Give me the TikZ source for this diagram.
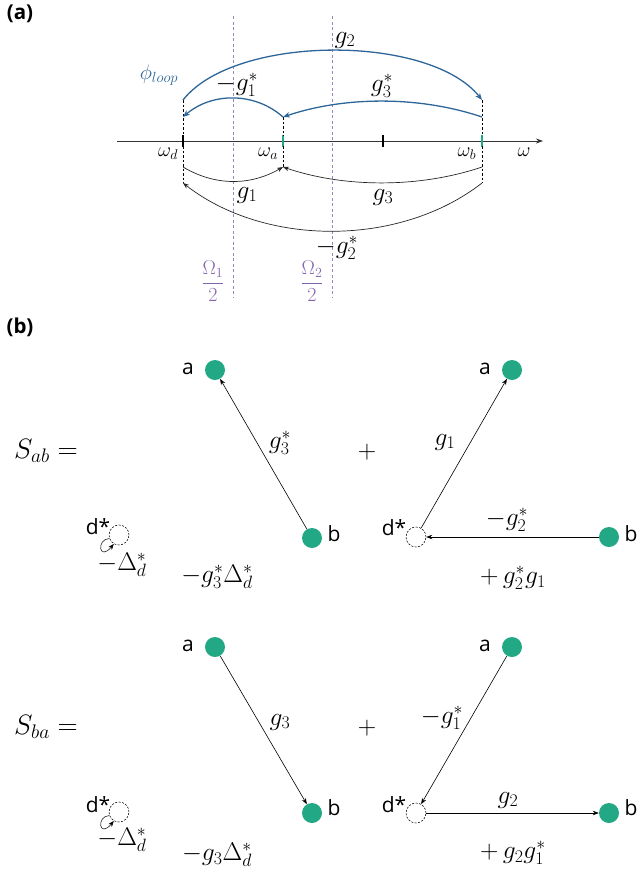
\RequirePackage{fix-cm}
\documentclass[tikz,border=0pt]{standalone}
\usepackage{fontspec}
\setsansfont{Open Sans}
\usetikzlibrary{arrows.meta}
\definecolor{tgreen}{HTML}{22A884}
\definecolor{tblue}{HTML}{2E6699}
\definecolor{tpurple}{HTML}{8465B0}
\begin{document}
\begin{tikzpicture}[x=1pt,y=-1pt,
  mlab/.style={font=\fontsize{25.5}{30}\selectfont, inner sep=0pt},
  biglab/.style={font=\fontsize{28}{33}\selectfont, inner sep=0pt},
  wlab/.style={font=\fontsize{20}{24}\selectfont, inner sep=0pt},
  slab/.style={font=\sffamily\fontsize{21}{25}\selectfont, inner sep=0pt},
  panel/.style={font=\sffamily\bfseries\fontsize{20.5}{24}\selectfont, inner sep=0pt},
  gnode/.style={circle, fill=tgreen, minimum size=20pt, inner sep=0pt},
  dnode/.style={circle, draw, dash pattern=on 2pt off 1.5pt, line width=0.55pt, minimum size=20pt, inner sep=0pt},
  conn/.style={-{Stealth[length=6pt,width=4.5pt]}, line width=0.6pt},
  bconn/.style={tblue, line width=1.3pt, -{Stealth[length=7pt,width=5.5pt]}},
  kconn/.style={black!85, line width=0.7pt, -{Stealth[length=6pt,width=4.5pt]}},
  guide/.style={dash pattern=on 2.5pt off 2pt, line width=0.5pt},
  pguide/.style={tpurple!80, dash pattern=on 3pt off 2.5pt, line width=0.6pt},
  tick/.style={line width=2.2pt}
]
\useasboundingbox (0,0) rectangle (637,871);

% ---------------- (a) ----------------
\node[panel] (pa) at (20,14) {(a)};

\coordinate (ax0) at (117,141);
\coordinate (ax1) at (543,141);
\draw[black!80, line width=0.8pt, -{Stealth[length=7pt,width=5pt]}] (ax0) -- (ax1);

\coordinate (td) at (183,141);
\coordinate (ta) at (283,141);
\coordinate (tm) at (383,141);
\coordinate (tb) at (482,141);
\draw[tick] (183,135) -- (183,147);
\draw[tick, tgreen] (283,135) -- (283,147);
\draw[tick] (383,135) -- (383,147);
\draw[tick, tgreen] (482,135) -- (482,147);

% purple guide lines
\coordinate (p1t) at (233,16); \coordinate (p1b) at (233,298);
\coordinate (p2t) at (332,16); \coordinate (p2b) at (332,298);
\draw[pguide] (p1t) -- (p1b);
\draw[pguide] (p2t) -- (p2b);
\node[wlab, tpurple] (O1) at (213,281) {$\displaystyle\frac{\Omega_1}{2}$};
\node[wlab, tpurple] (O2) at (312,281) {$\displaystyle\frac{\Omega_2}{2}$};

% end points of the arcs
\coordinate (dU) at (183,100);
\coordinate (dU2) at (183,117);
\coordinate (aU) at (283,117);
\coordinate (bU) at (482,100);
\coordinate (bU2) at (482,117);
\coordinate (dL) at (183,167);
\coordinate (dL2) at (183,183);
\coordinate (aL) at (283,167);
\coordinate (bL) at (482,167);
\coordinate (bL2) at (482,183);

\draw[guide] (dU) -- (183,136);
\draw[guide] (aU) -- (283,136);
\draw[guide] (bU) -- (482,136);
\draw[guide] (183,146) -- (dL2);
\draw[guide] (283,146) -- (aL);
\draw[guide] (482,146) -- (bL2);

% blue arcs
\draw[bconn] (dU) .. controls (235,34) and (430,34) .. (bU);
\draw[bconn] (aU) .. controls (255,92) and (212,92) .. (dU2);
\draw[bconn] (bU2) .. controls (420,96) and (345,96) .. (aU);
\node[font=\fontsize{21}{25}\selectfont, tblue, inner sep=0pt] (phi) at (159,75) {$\phi_{loop}$};
\node[mlab] (lg2) at (345,40) {$g_2$};
\node[mlab] (lg1s) at (237,85) {$-g_1^*$};
\node[mlab] (lg3s) at (382,86) {$g_3^*$};

% black arcs
\draw[kconn] (dL) .. controls (215,186) and (250,186) .. (aL);
\draw[kconn] (bL) .. controls (420,188) and (345,188) .. (aL);
\draw[kconn] (bL2) .. controls (400,247) and (265,247) .. (dL2);
\node[mlab] (lg1) at (247,195) {$g_1$};
\node[mlab] (lg3) at (383,197) {$g_3$};
\node[mlab] (lg2s) at (337,248) {$-g_2^*$};

% omega labels
\node[wlab] (wd) at (168,154) {$\omega_d$};
\node[wlab] (wa) at (268,154) {$\omega_a$};
\node[wlab] (wb) at (467,154) {$\omega_b$};
\node[wlab] (w) at (524,152) {$\omega$};

% ---------------- (b) ----------------
\node[panel] (pb) at (20,327) {(b)};

% S_ab row
\node[biglab] (Sab) at (46,451) {$S_{ab} =$};
\node[gnode] (a1) at (215,370) {};
\node[slab] (a1l) at (188,369) {a};
\node[gnode] (b1) at (312,538) {};
\node[slab] (b1l) at (334,534) {b};
\draw[conn] (b1) -- (a1);
\node[mlab] (l31) at (280,443) {$g_3^*$};

\node[dnode] (d1) at (119,535) {};
\node[slab] (d1l) at (98,527) {d*};
\draw[conn, line width=0.5pt] (d1.200) .. controls (96,539) and (99,562) .. (d1.240);
\node[mlab] (D1) at (122,565) {$-\Delta_d^*$};
\node[mlab] (T1) at (217,577) {$-g_3^*\Delta_d^*$};

\node[mlab] (plus1) at (367,452) {$+$};
\node[gnode] (a2) at (512,370) {};
\node[slab] (a2l) at (485,369) {a};
\node[dnode] (d2) at (416,537) {};
\node[slab] (d2l) at (394,528) {d*};
\node[gnode] (b2) at (609,537) {};
\node[slab] (b2l) at (631,534) {b};
\draw[conn] (d2) -- (a2);
\draw[conn] (b2) -- (d2);
\node[mlab] (l12) at (445,442) {$g_1$};
\node[mlab] (l22) at (507,520) {$-g_2^*$};
\node[mlab] (T2) at (513,578) {$+\,g_2^*g_1$};

% S_ba row
\node[biglab] (Sba) at (46,727) {$S_{ba} =$};
\node[gnode] (a3) at (215,647) {};
\node[slab] (a3l) at (188,646) {a};
\node[gnode] (b3) at (312,813) {};
\node[slab] (b3l) at (334,808) {b};
\draw[conn] (a3) -- (b3);
\node[mlab] (l33) at (280,722) {$g_3$};

\node[dnode] (d3) at (119,812) {};
\node[slab] (d3l) at (98,805) {d*};
\draw[conn, line width=0.5pt] (d3.200) .. controls (96,816) and (99,839) .. (d3.240);
\node[mlab] (D3) at (122,840) {$-\Delta_d^*$};
\node[mlab] (T3) at (217,855) {$-g_3\Delta_d^*$};

\node[mlab] (plus2) at (367,728) {$+$};
\node[gnode] (a4) at (512,647) {};
\node[slab] (a4l) at (485,646) {a};
\node[dnode] (d4) at (416,813) {};
\node[slab] (d4l) at (394,805) {d*};
\node[gnode] (b4) at (609,813) {};
\node[slab] (b4l) at (631,808) {b};
\draw[conn] (a4) -- (d4);
\draw[conn] (d4) -- (b4);
\node[mlab] (l14) at (442,718) {$-g_1^*$};
\node[mlab] (l24) at (508,800) {$g_2$};
\node[mlab] (T4) at (513,853) {$+\,g_2g_1^*$};
\end{tikzpicture}
\end{document}
